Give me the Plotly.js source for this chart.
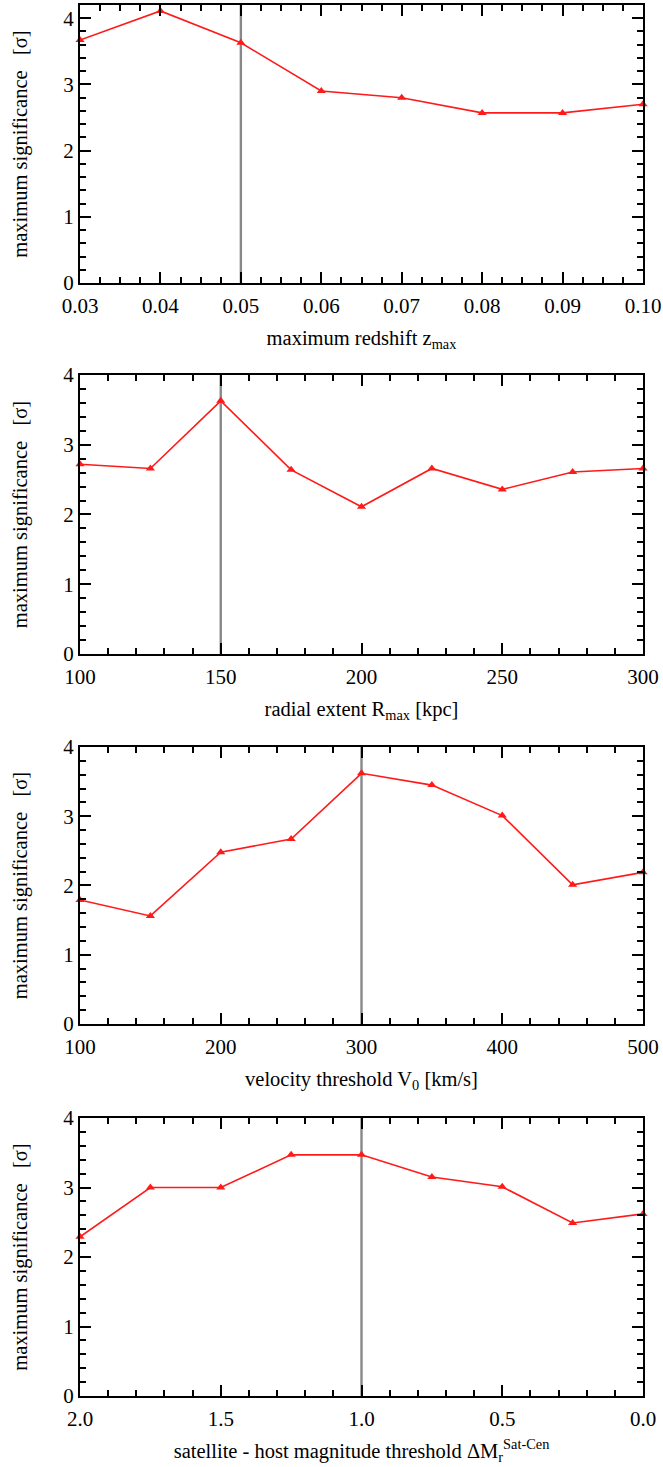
<!DOCTYPE html>
<html><head><meta charset="utf-8">
<script src="https://cdn.plot.ly/plotly-3.0.1.min.js"></script>
<style>body{margin:0;background:#fff}#c{width:663px;height:1467px}</style>
</head><body><div id="c"></div>
<script>
// Panel 1: maximum redshift
const zmax = [0.03, 0.04, 0.05, 0.06, 0.07, 0.08, 0.09, 0.10];
const sigZ = [3.67, 4.11, 3.63, 2.90, 2.80, 2.57, 2.57, 2.70];
// Panel 2: radial extent
const rmax = [100, 125, 150, 175, 200, 225, 250, 275, 300];
const sigR = [2.72, 2.66, 3.63, 2.64, 2.11, 2.66, 2.36, 2.61, 2.66];
// Panel 3: velocity threshold
const v0 = [100, 150, 200, 250, 300, 350, 400, 450, 500];
const sigV = [1.79, 1.56, 2.48, 2.67, 3.62, 3.45, 3.01, 2.01, 2.19];
// Panel 4: magnitude threshold
const dM = [2.0, 1.75, 1.5, 1.25, 1.0, 0.75, 0.5, 0.25, 0.0];
const sigM = [2.29, 3.00, 3.00, 3.47, 3.47, 3.15, 3.01, 2.49, 2.62];
// fiducial values (vertical lines)
const fiducial = [0.05, 150, 300, 1.0];
const xTitles = [
  'maximum redshift z<sub>max</sub>',
  'radial extent R<sub>max</sub> [kpc]',
  'velocity threshold V<sub>0</sub> [km/s]',
  'satellite - host magnitude threshold ΔM<sub>r</sub><sup>Sat-Cen</sup>'
];
const yTitle = 'maximum significance   [σ]';

const xs = [zmax, rmax, v0, dM];
const ys = [sigZ, sigR, sigV, sigM];
const domains = [[0.80709, 0.99659], [0.55419, 0.74438], [0.30198, 0.49080], [0.04840, 0.23790]];
const xRanges = [[0.03, 0.10], [100, 300], [100, 500], [2.0, 0.0]];
const xDticks = [0.01, 50, 100, 0.5];
const xMinor = [0.0025, 10, 20, 0.1];
const xFormats = ['.2f', 'd', 'd', '.1f'];
const yRanges = [[0, 4.2], [0, 4], [0, 4], [0, 4]];

const FAM = 'Liberation Serif';
const traces = [];
const layout = {
  width: 663, height: 1467,
  margin: {l: 80, r: 20, t: 0, b: 0},
  paper_bgcolor: '#ffffff', plot_bgcolor: '#ffffff',
  showlegend: false,
  font: {family: FAM, size: 20, color: '#000000'},
  shapes: []
};
for (let i = 0; i < 4; i++) {
  const n = i === 0 ? '' : String(i + 1);
  traces.push({
    x: xs[i], y: ys[i], xaxis: 'x' + n, yaxis: 'y' + n,
    type: 'scatter', mode: 'lines+markers',
    line: {color: '#ff1a1a', width: 1.6},
    marker: {symbol: 'triangle-up', size: 8, color: '#ff1a1a'},
    cliponaxis: false
  });
  layout['xaxis' + n] = {
    anchor: 'y' + n, domain: [0, 1], range: xRanges[i],
    tickmode: 'linear', tick0: 0, dtick: xDticks[i], tickformat: xFormats[i],
    ticks: 'inside', ticklen: 11, tickwidth: 2, tickcolor: '#000000',
    minor: {dtick: xMinor[i], tick0: 0, ticks: 'inside', ticklen: 6, tickwidth: 1.6, tickcolor: '#000000'},
    showline: true, linewidth: 2, linecolor: '#000000', mirror: 'ticks',
    showgrid: false, zeroline: false,
    ticklabeloverflow: 'allow', ticklabelstandoff: 3,
    tickfont: {family: FAM, size: 21, color: '#000000'},
    title: {text: xTitles[i], font: {family: FAM, size: 20.5, color: '#000000'}, standoff: 13}
  };
  layout['yaxis' + n] = {
    anchor: 'x' + n, domain: domains[i], range: yRanges[i],
    tickmode: 'linear', tick0: 0, dtick: 1,
    ticks: 'inside', ticklen: 11, tickwidth: 2, tickcolor: '#000000',
    minor: {dtick: 0.2, tick0: 0, ticks: 'inside', ticklen: 6, tickwidth: 1.6, tickcolor: '#000000'},
    showline: true, linewidth: 2, linecolor: '#000000', mirror: 'ticks',
    showgrid: false, zeroline: false,
    tickfont: {family: FAM, size: 21, color: '#000000'},
    title: {text: yTitle, font: {family: FAM, size: 20.5, color: '#000000'}, standoff: 30}
  };
  layout.shapes.push({
    type: 'line', xref: 'x' + n, yref: 'y' + n + ' domain',
    x0: fiducial[i], x1: fiducial[i], y0: 0, y1: 1,
    line: {color: '#888888', width: 2.4}, layer: 'below'
  });
}
Plotly.newPlot('c', traces, layout, {displayModeBar: false});
</script></body></html>
